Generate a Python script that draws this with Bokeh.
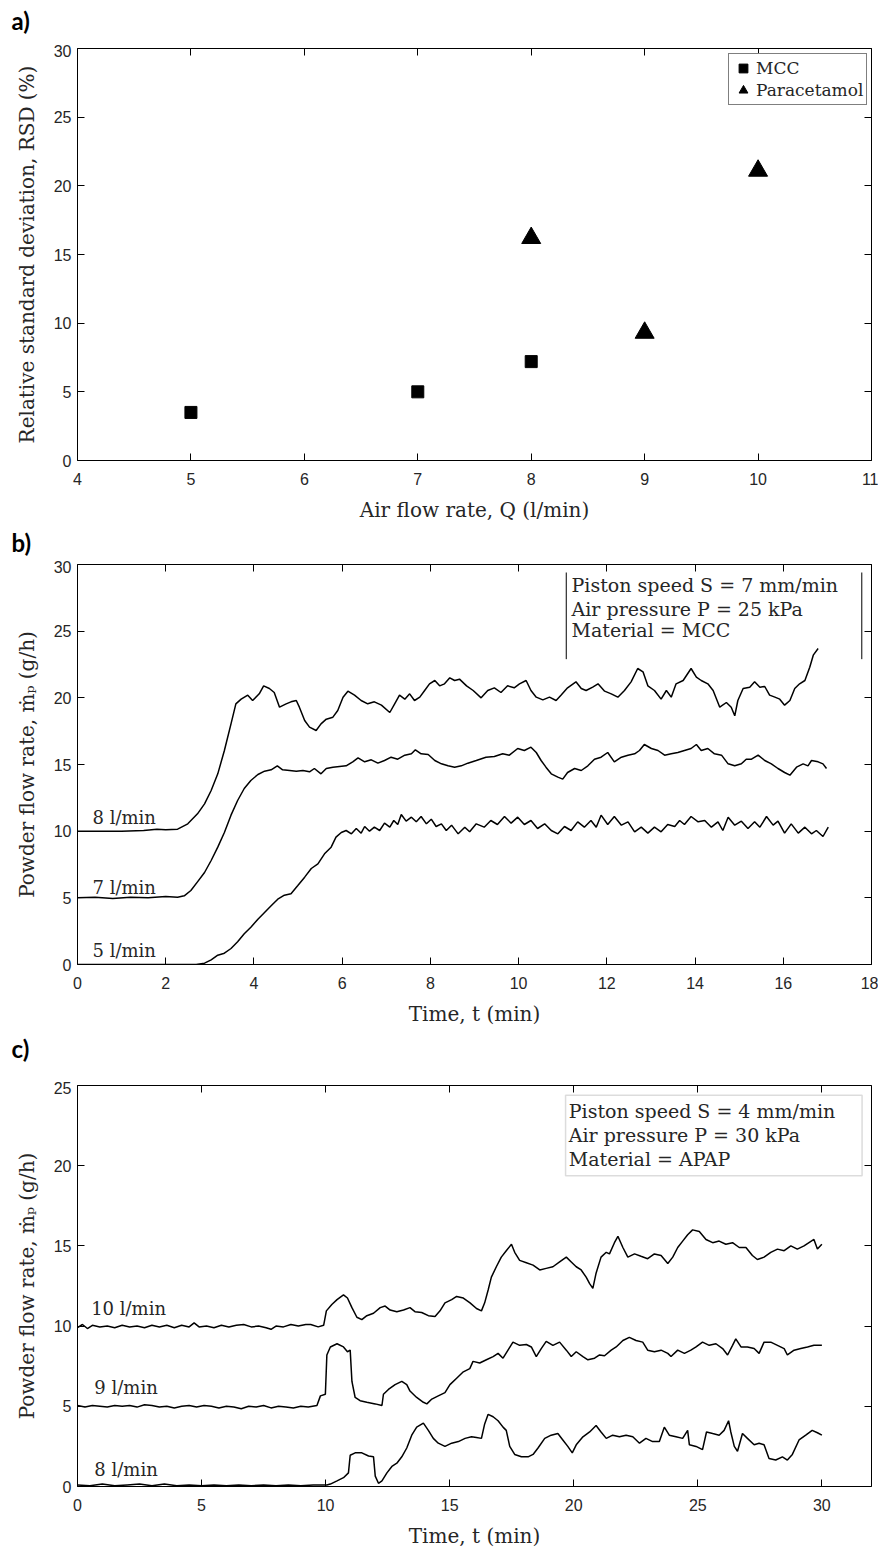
from bokeh.plotting import figure
from bokeh.models import (LinearAxis, FixedTicker, Range1d, Legend, LegendItem, BoxAnnotation, Title)
from bokeh.layouts import column
from bokeh.embed import file_html
from bokeh.resources import INLINE
from bokeh.core.properties import value

# ---------------- Panel a data ----------------
q_mcc = [5, 7, 8]
rsd_mcc = [3.5, 5.0, 7.2]
q_apap = [8, 9, 10]
rsd_apap = [16.2, 9.3, 21.1]
a_xticks = [4, 5, 6, 7, 8, 9, 10, 11]
a_yticks = [0, 5, 10, 15, 20, 25, 30]

# ---------------- Panel b data (t [min], flow [g/h]) ----------------
b_xticks = [0, 2, 4, 6, 8, 10, 12, 14, 16, 18]
b_yticks = [0, 5, 10, 15, 20, 25, 30]
b_labels = ["8 l/min", "7 l/min", "5 l/min"]
b_box_lines = ["Piston speed S = 7 mm/min", "Air pressure P = 25 kPa", "Material = MCC"]

b_8 = [(0, 10.0), (0.5, 10.0), (1.0, 10.0), (1.5, 10.05), (1.8, 10.15), (2.0, 10.1), (2.27, 10.15),
       (2.5, 10.55), (2.72, 11.3), (2.88, 12.05), (3.03, 13.05), (3.18, 14.3), (3.33, 16.05),
       (3.48, 18.05), (3.59, 19.55), (3.71, 19.9), (3.86, 20.2), (3.97, 19.8), (4.12, 20.3),
       (4.22, 20.9), (4.35, 20.7), (4.46, 20.4), (4.58, 19.3), (4.73, 19.55), (4.84, 19.7),
       (4.96, 19.8), (5.03, 19.3), (5.15, 18.3), (5.26, 17.8), (5.41, 17.55), (5.52, 18.05),
       (5.64, 18.4), (5.79, 18.55), (5.90, 19.05), (6.02, 20.05), (6.13, 20.5), (6.28, 20.2),
       (6.43, 19.8), (6.58, 19.55), (6.73, 19.7), (6.89, 19.45), (7.08, 18.9), (7.19, 19.55),
       (7.30, 20.2), (7.42, 19.9), (7.53, 20.3), (7.64, 19.8), (7.76, 20.05), (7.87, 20.55),
       (7.98, 21.05), (8.10, 21.3), (8.21, 20.9), (8.32, 21.05), (8.44, 21.5), (8.55, 21.3),
       (8.66, 21.4), (8.82, 20.9), (8.97, 20.55), (9.15, 20.0), (9.30, 20.55), (9.45, 20.75),
       (9.60, 20.4), (9.75, 20.9), (9.90, 20.75), (10.02, 21.05), (10.17, 21.3), (10.28, 20.55),
       (10.40, 20.05), (10.55, 19.85), (10.70, 20.05), (10.85, 19.8), (10.96, 20.2), (11.11, 20.75),
       (11.30, 21.2), (11.42, 20.7), (11.53, 20.55), (11.68, 20.8), (11.80, 21.05), (11.95, 20.5),
       (12.10, 20.3), (12.25, 20.05), (12.40, 20.55), (12.55, 21.2), (12.70, 22.2), (12.82, 21.95),
       (12.93, 20.9), (13.08, 20.55), (13.23, 19.9), (13.35, 20.55), (13.46, 20.05), (13.57, 21.05),
       (13.73, 21.3), (13.91, 22.2), (14.03, 21.55), (14.14, 21.3), (14.29, 21.05), (14.41, 20.55),
       (14.56, 19.3), (14.71, 19.65), (14.82, 19.3), (14.90, 18.65), (14.97, 19.8), (15.09, 20.7),
       (15.24, 20.8), (15.35, 21.2), (15.47, 20.8), (15.58, 20.85), (15.69, 20.2), (15.81, 20.05),
       (15.92, 19.9), (16.03, 19.45), (16.15, 19.8), (16.26, 20.7), (16.37, 21.05), (16.49, 21.3),
       (16.60, 22.3), (16.68, 23.2), (16.79, 23.7)]

b_7 = [(0, 5.0), (0.4, 5.05), (0.8, 4.95), (1.2, 5.05), (1.6, 5.0), (2.0, 5.1), (2.27, 5.05),
       (2.42, 5.15), (2.57, 5.55), (2.72, 6.2), (2.88, 6.9), (3.03, 7.8), (3.18, 8.8), (3.33, 9.9),
       (3.48, 11.2), (3.63, 12.3), (3.78, 13.2), (3.93, 13.8), (4.09, 14.25), (4.24, 14.5),
       (4.39, 14.6), (4.53, 14.9), (4.65, 14.6), (4.81, 14.55), (4.96, 14.5), (5.11, 14.55),
       (5.26, 14.45), (5.37, 14.7), (5.52, 14.3), (5.64, 14.7), (5.79, 14.8), (5.94, 14.85),
       (6.09, 14.9), (6.24, 15.2), (6.36, 15.5), (6.51, 15.2), (6.66, 15.35), (6.81, 15.1),
       (6.96, 15.3), (7.11, 15.55), (7.26, 15.4), (7.42, 15.7), (7.57, 15.8), (7.66, 16.1),
       (7.79, 15.8), (7.95, 15.75), (8.10, 15.3), (8.25, 15.05), (8.40, 14.9), (8.55, 14.8),
       (8.70, 14.9), (8.85, 15.1), (9.04, 15.3), (9.26, 15.55), (9.45, 15.6), (9.64, 15.8),
       (9.79, 15.7), (9.98, 16.2), (10.13, 16.05), (10.28, 16.3), (10.40, 15.9), (10.51, 15.3),
       (10.62, 14.8), (10.74, 14.3), (10.89, 14.05), (11.0, 13.9), (11.11, 14.4), (11.27, 14.7),
       (11.42, 14.55), (11.57, 14.9), (11.72, 15.4), (11.87, 15.55), (12.02, 15.9), (12.17, 15.2),
       (12.33, 15.55), (12.48, 15.7), (12.63, 15.8), (12.74, 16.05), (12.85, 16.5), (13.01, 16.2),
       (13.16, 16.05), (13.31, 15.7), (13.46, 15.8), (13.61, 15.9), (13.76, 16.05), (13.91, 16.2),
       (14.03, 16.5), (14.14, 16.05), (14.29, 16.2), (14.44, 15.8), (14.60, 15.7), (14.75, 15.05),
       (14.90, 14.9), (15.05, 15.05), (15.16, 15.4), (15.28, 15.4), (15.43, 15.7), (15.58, 15.3),
       (15.73, 15.05), (15.88, 14.7), (16.03, 14.4), (16.15, 14.2), (16.30, 14.8), (16.45, 15.05),
       (16.56, 14.9), (16.64, 15.3), (16.79, 15.2), (16.90, 15.05), (16.98, 14.7)]

b_5 = [(0, 0.0), (1.0, 0.0), (2.0, 0.0), (2.69, 0.0), (2.88, 0.1), (3.03, 0.35), (3.18, 0.7),
       (3.33, 0.85), (3.48, 1.2), (3.63, 1.7), (3.78, 2.3), (3.93, 2.8), (4.09, 3.4), (4.24, 3.9),
       (4.39, 4.4), (4.54, 4.9), (4.69, 5.2), (4.84, 5.3), (4.99, 5.9), (5.15, 6.55), (5.30, 7.2),
       (5.45, 7.55), (5.60, 8.3), (5.75, 8.8), (5.86, 9.55), (5.98, 9.9), (6.09, 10.05), (6.21, 9.8),
       (6.32, 10.2), (6.43, 9.85), (6.51, 10.35), (6.62, 10.0), (6.73, 10.3), (6.85, 10.05),
       (6.96, 10.6), (7.08, 10.3), (7.17, 10.8), (7.26, 10.5), (7.34, 11.25), (7.45, 10.75),
       (7.57, 11.05), (7.68, 10.7), (7.79, 11.1), (7.91, 10.55), (8.02, 10.9), (8.13, 10.35),
       (8.25, 10.55), (8.36, 10.05), (8.48, 10.45), (8.63, 9.8), (8.78, 10.3), (8.89, 9.95),
       (9.04, 10.55), (9.22, 10.3), (9.37, 10.8), (9.52, 10.5), (9.68, 11.1), (9.83, 10.6),
       (9.98, 11.05), (10.13, 10.5), (10.28, 10.8), (10.43, 10.2), (10.59, 10.55), (10.74, 10.05),
       (10.89, 9.8), (11.04, 10.35), (11.19, 10.05), (11.34, 10.7), (11.49, 10.3), (11.64, 10.8),
       (11.76, 10.3), (11.87, 11.2), (12.02, 10.5), (12.17, 11.1), (12.33, 10.45), (12.48, 10.7),
       (12.63, 9.95), (12.78, 10.3), (12.93, 9.85), (13.08, 10.3), (13.23, 9.95), (13.38, 10.5),
       (13.54, 10.35), (13.65, 10.8), (13.76, 10.5), (13.91, 11.1), (14.07, 10.7), (14.22, 10.8),
       (14.37, 10.3), (14.52, 10.7), (14.63, 10.05), (14.75, 11.05), (14.90, 10.45), (15.05, 10.75),
       (15.20, 10.2), (15.35, 10.7), (15.47, 10.3), (15.62, 11.1), (15.77, 10.45), (15.88, 10.75),
       (16.03, 9.85), (16.18, 10.55), (16.34, 9.85), (16.49, 10.3), (16.64, 9.8), (16.75, 10.05),
       (16.90, 9.6), (17.02, 10.3)]

# ---------------- Panel c data ----------------
c_xticks = [0, 5, 10, 15, 20, 25, 30]
c_yticks = [0, 5, 10, 15, 20, 25]
c_labels = ["10 l/min", "9 l/min", "8 l/min"]
c_box_lines = ["Piston speed S = 4 mm/min", "Air pressure P = 30 kPa", "Material = APAP"]

c_10 = [(0, 9.9), (0.2, 10.1), (0.4, 9.85), (0.6, 10.05), (0.9, 9.95), (1.2, 10.0), (1.5, 9.9),
        (1.8, 10.05), (2.1, 9.95), (2.4, 10.0), (2.7, 9.9), (3.0, 10.05), (3.3, 9.95), (3.6, 10.05),
        (3.9, 9.9), (4.2, 10.05), (4.5, 9.95), (4.7, 10.2), (4.9, 9.95), (5.2, 10.0), (5.5, 9.9),
        (5.8, 10.05), (6.1, 9.95), (6.4, 10.05), (6.7, 10.1), (7.0, 9.95), (7.3, 10.0), (7.6, 9.9),
        (7.8, 9.8), (8.0, 10.0), (8.3, 9.95), (8.6, 10.1), (8.9, 10.0), (9.2, 10.1), (9.4, 10.1),
        (9.7, 9.95), (9.92, 10.05), (10.03, 10.95), (10.25, 11.35), (10.46, 11.65), (10.72, 11.95),
        (10.88, 11.75), (11.06, 11.15), (11.26, 10.55), (11.46, 10.4), (11.66, 10.65), (11.93, 10.8),
        (12.2, 11.15), (12.4, 11.25), (12.6, 11.0), (12.87, 10.9), (13.14, 11.0), (13.4, 11.15),
        (13.6, 10.9), (13.87, 10.85), (14.14, 10.65), (14.41, 10.6), (14.61, 10.95), (14.81, 11.45),
        (15.08, 11.65), (15.28, 11.85), (15.55, 11.75), (15.82, 11.45), (16.08, 11.1), (16.28, 10.95),
        (16.41, 11.45), (16.55, 12.25), (16.68, 13.05), (16.88, 13.7), (17.08, 14.3), (17.28, 14.7),
        (17.49, 15.1), (17.62, 14.6), (17.82, 14.1), (18.09, 13.95), (18.36, 13.8), (18.63, 13.5),
        (18.89, 13.6), (19.16, 13.7), (19.43, 14.0), (19.70, 14.3), (19.90, 14.0), (20.10, 13.7),
        (20.30, 13.5), (20.50, 13.05), (20.64, 12.65), (20.77, 12.35), (20.90, 13.3), (21.1, 14.3),
        (21.31, 14.6), (21.44, 14.5), (21.64, 15.2), (21.78, 15.6), (21.98, 14.9), (22.18, 14.3),
        (22.45, 14.5), (22.71, 14.35), (22.98, 14.2), (23.25, 14.5), (23.52, 14.4), (23.79, 13.9),
        (23.99, 14.3), (24.19, 14.9), (24.39, 15.3), (24.59, 15.7), (24.79, 16.0), (25.06, 15.9),
        (25.33, 15.4), (25.6, 15.2), (25.86, 15.3), (26.13, 15.1), (26.4, 15.2), (26.67, 14.9),
        (26.94, 14.9), (27.2, 14.4), (27.4, 14.15), (27.67, 14.3), (27.94, 14.6), (28.21, 14.8),
        (28.48, 14.7), (28.75, 15.0), (29.01, 14.8), (29.28, 15.0), (29.48, 15.2), (29.68, 15.4),
        (29.82, 14.8), (30.0, 15.1)]

c_9 = [(0, 5.05), (0.3, 4.95), (0.6, 5.05), (0.9, 5.0), (1.2, 4.95), (1.5, 5.05), (1.8, 5.0),
       (2.1, 5.05), (2.4, 4.95), (2.7, 5.1), (3.0, 5.05), (3.3, 4.95), (3.6, 5.0), (3.9, 4.9),
       (4.2, 5.0), (4.5, 5.05), (4.8, 4.95), (5.1, 5.05), (5.4, 5.0), (5.7, 4.9), (6.0, 5.0),
       (6.3, 4.95), (6.6, 4.85), (6.9, 5.0), (7.2, 4.95), (7.5, 5.05), (7.8, 4.9), (8.1, 5.0),
       (8.4, 4.95), (8.7, 4.9), (9.0, 5.0), (9.3, 4.95), (9.65, 5.05), (9.79, 5.65), (9.99, 5.75),
       (10.05, 8.2), (10.19, 8.7), (10.46, 8.9), (10.72, 8.7), (10.88, 8.4), (10.99, 8.5),
       (11.06, 6.55), (11.19, 5.55), (11.39, 5.35), (11.66, 5.25), (12.0, 5.15), (12.27, 5.05),
       (12.33, 5.75), (12.53, 6.05), (12.8, 6.35), (13.07, 6.55), (13.27, 6.35), (13.4, 5.95),
       (13.67, 5.55), (13.94, 5.25), (14.08, 5.15), (14.28, 5.45), (14.54, 5.65), (14.81, 5.85),
       (15.01, 6.35), (15.28, 6.75), (15.55, 7.15), (15.81, 7.35), (15.94, 7.8), (16.21, 7.7),
       (16.48, 7.9), (16.75, 8.1), (16.95, 8.3), (17.15, 8.0), (17.35, 8.5), (17.55, 9.0),
       (17.82, 8.8), (18.09, 8.85), (18.29, 8.7), (18.49, 8.1), (18.69, 8.6), (18.89, 9.05),
       (19.16, 8.8), (19.43, 9.0), (19.70, 8.5), (19.90, 8.1), (20.10, 8.4), (20.37, 8.1),
       (20.57, 7.9), (20.84, 8.0), (21.04, 8.2), (21.24, 8.15), (21.51, 8.5), (21.71, 8.7),
       (21.98, 9.1), (22.24, 9.3), (22.51, 9.1), (22.78, 9.0), (22.98, 8.5), (23.25, 8.4),
       (23.52, 8.5), (23.79, 8.3), (23.92, 8.1), (24.19, 8.5), (24.46, 8.3), (24.72, 8.5),
       (24.93, 8.7), (25.19, 9.0), (25.46, 8.8), (25.73, 8.9), (26.0, 8.6), (26.2, 8.2),
       (26.4, 8.8), (26.53, 9.2), (26.74, 8.7), (27.0, 8.7), (27.27, 8.6), (27.47, 8.3),
       (27.67, 9.0), (27.94, 9.0), (28.21, 8.8), (28.48, 8.6), (28.61, 8.2), (28.88, 8.5),
       (29.15, 8.6), (29.42, 8.7), (29.68, 8.8), (30.0, 8.8)]

c_8 = [(0, 0.1), (0.5, 0.05), (1.0, 0.15), (1.5, 0.05), (2.0, 0.1), (2.5, 0.15), (3.0, 0.05),
       (3.5, 0.15), (4.0, 0.05), (4.5, 0.1), (5.0, 0.05), (5.5, 0.1), (6.0, 0.05), (6.5, 0.1),
       (7.0, 0.05), (7.5, 0.1), (8.0, 0.05), (8.5, 0.1), (9.0, 0.05), (9.5, 0.1), (10.05, 0.1),
       (10.19, 0.15), (10.46, 0.35), (10.72, 0.55), (10.92, 0.85), (10.99, 1.95), (11.19, 2.1),
       (11.46, 2.1), (11.73, 1.9), (11.93, 1.85), (12.0, 0.65), (12.13, 0.2), (12.27, 0.35),
       (12.47, 0.85), (12.67, 1.25), (12.87, 1.45), (13.07, 1.85), (13.27, 2.4), (13.47, 3.2),
       (13.67, 3.7), (13.94, 3.95), (14.14, 3.5), (14.34, 3.0), (14.54, 2.7), (14.81, 2.5),
       (15.08, 2.7), (15.35, 2.8), (15.62, 3.0), (15.88, 3.1), (16.08, 3.05), (16.28, 3.0),
       (16.41, 3.9), (16.55, 4.5), (16.75, 4.35), (16.95, 4.1), (17.15, 3.7), (17.28, 3.5),
       (17.42, 2.5), (17.62, 2.0), (17.89, 1.85), (18.16, 1.85), (18.36, 2.0), (18.56, 2.4),
       (18.83, 3.0), (19.09, 3.2), (19.36, 3.3), (19.56, 2.9), (19.76, 2.5), (19.94, 2.1),
       (20.1, 2.6), (20.37, 3.1), (20.64, 3.4), (20.90, 3.8), (21.1, 3.4), (21.31, 3.0),
       (21.57, 3.2), (21.84, 3.1), (22.11, 3.2), (22.38, 3.1), (22.65, 2.7), (22.91, 3.0),
       (23.18, 2.8), (23.45, 2.8), (23.65, 3.7), (23.85, 3.2), (24.12, 3.1), (24.39, 3.0),
       (24.59, 3.5), (24.66, 2.6), (24.93, 2.5), (25.19, 2.3), (25.35, 3.4), (25.6, 3.3),
       (25.86, 3.2), (26.06, 3.5), (26.24, 4.1), (26.33, 3.4), (26.47, 2.5), (26.6, 2.2),
       (26.8, 3.3), (27.0, 3.0), (27.27, 2.6), (27.47, 2.7), (27.67, 2.6), (27.87, 1.75),
       (28.14, 1.65), (28.41, 1.85), (28.61, 1.65), (28.81, 2.0), (29.08, 2.9), (29.35, 3.2),
       (29.61, 3.5), (29.82, 3.35), (30.0, 3.2)]

SERIF = "DejaVu Serif"
SANS = "Liberation Sans"
TXT = "#262626"
W = 878


def add_axis(p, side, ticks, label=None, show_labels=False, label_standoff=8, tick_standoff=8):
    ax = LinearAxis(ticker=FixedTicker(ticks=ticks, minor_ticks=[]))
    ax.axis_line_color = "black"
    ax.axis_line_width = 1
    ax.major_tick_line_color = "black"
    ax.major_tick_in = 7
    ax.major_tick_out = 0
    ax.minor_tick_in = 0
    ax.minor_tick_out = 0
    if show_labels:
        ax.major_label_text_font = SANS
        ax.major_label_text_font_size = "16px"
        ax.major_label_text_color = TXT
        ax.major_label_standoff = tick_standoff
    else:
        ax.major_label_text_font_size = "1px"
        ax.major_label_text_color = None
        ax.major_label_standoff = 0
    if label:
        ax.axis_label = label
        ax.axis_label_text_font = SERIF
        ax.axis_label_text_font_style = "normal"
        ax.axis_label_text_font_size = "20px"
        ax.axis_label_text_color = TXT
        ax.axis_label_standoff = label_standoff
    p.add_layout(ax, side)
    return ax


def make_tag(h, tag, standoff):
    """A thin strip above a panel that carries its bold panel letter as a title."""
    t = figure(width=W, height=h, x_range=Range1d(0, 1), y_range=Range1d(0, 1),
               output_backend="svg", toolbar_location=None,
               min_border_left=0, min_border_right=0, min_border_top=0, min_border_bottom=0,
               x_axis_location=None, y_axis_location=None)
    t.grid.visible = False
    t.outline_line_color = None
    t.add_layout(Title(text=tag, align="left", offset=-66, text_font="Lato",
                       text_font_style="bold", text_font_size="24px", text_color="black",
                       standoff=standoff), "above")
    return t


def make_fig(h, xr, yr, xt, yt, xlabel, ylabel, bt, bb):
    p = figure(width=W, height=h, x_range=Range1d(*xr), y_range=Range1d(*yr),
               output_backend="svg", toolbar_location=None,
               min_border_left=77, min_border_right=7, min_border_top=bt, min_border_bottom=bb,
               x_axis_location=None, y_axis_location=None)
    p.grid.visible = False
    p.outline_line_color = None
    p.background_fill_color = "white"
    p.border_fill_color = "white"
    add_axis(p, "below", xt, xlabel, True, label_standoff=10, tick_standoff=12)
    add_axis(p, "left", yt, ylabel, True, label_standoff=12, tick_standoff=6)
    add_axis(p, "right", yt)
    add_axis(p, "above", xt)
    return p


# ---------------- Panel a ----------------
tag_a = make_tag(44, "a)", 6)
pa = make_fig(481, (4, 11), (0, 30), a_xticks, a_yticks,
              "Air flow rate, Q (l/min)", "Relative standard deviation, RSD (%)", 4, 65)
r_mcc = pa.scatter(q_mcc, rsd_mcc, marker="square", size=12, color="black")
r_apap = pa.scatter(q_apap, rsd_apap, marker="triangle", size=19, color="black")
leg = Legend(items=[LegendItem(label="MCC", renderers=[r_mcc]),
                    LegendItem(label="Paracetamol", renderers=[r_apap])],
             location=(651, 355), margin=0, padding=3, spacing=0,
             glyph_width=22, glyph_height=22, label_standoff=2,
             label_text_font=SERIF, label_text_font_size="17px", label_text_color=TXT,
             border_line_color="black", border_line_width=1, background_fill_alpha=1)
pa.add_layout(leg, "center")

# ---------------- Panel b ----------------
tag_b = make_tag(35, "b)", 0)
pb = make_fig(470, (0, 18), (0, 30), b_xticks, b_yticks,
              "Time, t (min)", "Powder flow rate, ṁₚ (g/h)", 4, 66)
for ser in (b_8, b_7, b_5):
    pb.line([s[0] for s in ser], [s[1] for s in ser], line_color="black", line_width=1.5)
pb.text(x=[0.34, 0.34, 0.34], y=[11.0, 5.8, 1.05], text=b_labels, text_font=value(SERIF),
        text_font_size="18px", text_color=TXT, text_baseline="middle")
pb.segment(x0=[11.08, 17.78], y0=[22.9, 22.9], x1=[11.08, 17.78], y1=[29.4, 29.4],
           line_color="black", line_width=1)
pb.text(x=[11.2] * 3, y=[28.43, 26.7, 25.06], text=b_box_lines, text_font=value(SERIF),
        text_font_size="19px", text_color=TXT, text_baseline="middle")

# ---------------- Panel c ----------------
tag_c = make_tag(51, "c)", 2)
pc = make_fig(469, (0, 32), (0, 25), c_xticks, c_yticks,
              "Time, t (min)", "Powder flow rate, ṁₚ (g/h)", 4, 56)
for ser in (c_10, c_9, c_8):
    pc.line([s[0] for s in ser], [s[1] for s in ser], line_color="black", line_width=1.5)
pc.text(x=[0.55, 0.68, 0.68], y=[11.1, 6.2, 1.05], text=c_labels, text_font=value(SERIF),
        text_font_size="18px", text_color=TXT, text_baseline="middle")
pc.add_layout(BoxAnnotation(left=19.67, right=31.62, bottom=19.38, top=24.39,
                            fill_color="white", fill_alpha=1, line_color="#8c8c8c",
                            line_width=1.5, level="underlay"))
pc.text(x=[19.8] * 3, y=[23.43, 21.94, 20.42], text=c_box_lines, text_font=value(SERIF),
        text_font_size="19px", text_color=TXT, text_baseline="middle")

layout = column(tag_a, pa, tag_b, pb, tag_c, pc, spacing=0)
open("out.html", "w").write(file_html(layout, INLINE))
